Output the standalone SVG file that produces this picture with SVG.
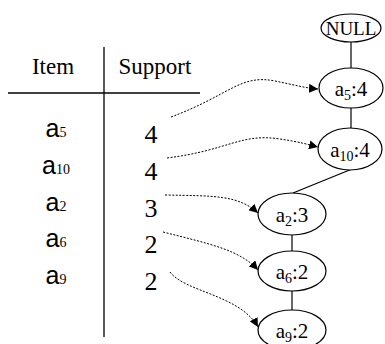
<svg xmlns="http://www.w3.org/2000/svg" width="385" height="344" viewBox="0 0 385 344">
  <style>
    .serif { font-family: 'Liberation Serif', 'Times New Roman', serif; fill: #000; }
    .sans { font-family: 'Liberation Sans', Arial, sans-serif; fill: #000; }
    .hdr { font-size: 23px; text-anchor: middle; }
    .item { font-size: 25px; text-anchor: middle; }
    .sub { font-family: 'Liberation Serif', 'Times New Roman', serif; font-size: 14px; }
    .num { font-size: 26px; text-anchor: middle; }
    .node ellipse { fill: #fff; stroke: #000; stroke-width: 1.2; }
    .lbl { font-size: 21px; text-anchor: middle; }
    .rule { stroke: #000; stroke-width: 1.3; }
    .edge { stroke: #000; stroke-width: 1.2; fill: none; }
    .link { stroke: #000; stroke-width: 1; fill: none; stroke-dasharray: 2 1.5; }
  </style>
  <defs>
    <marker id="arrow" viewBox="0 0 10 10" refX="10" refY="5" markerWidth="9" markerHeight="9" markerUnits="userSpaceOnUse" orient="auto">
      <path d="M0,0 L10,5 L0,10 z" fill="#000"/>
    </marker>
  </defs>

  <!-- item / support table -->
  <g id="table">
    <line class="rule" x1="8" y1="93" x2="200" y2="93"/>
    <line class="rule" x1="104" y1="47" x2="104" y2="337"/>
    <text class="serif hdr" x="53" y="74">Item</text>
    <text class="serif hdr" x="155" y="74">Support</text>

    <text class="sans item" x="56" y="137">a<tspan class="sub">5</tspan></text>
    <text class="sans item" x="56" y="174">a<tspan class="sub">10</tspan></text>
    <text class="sans item" x="56" y="211">a<tspan class="sub">2</tspan></text>
    <text class="sans item" x="56" y="247">a<tspan class="sub">6</tspan></text>
    <text class="sans item" x="56" y="284">a<tspan class="sub">9</tspan></text>

    <text class="serif num" x="151" y="143">4</text>
    <text class="serif num" x="151" y="180">4</text>
    <text class="serif num" x="151" y="217">3</text>
    <text class="serif num" x="151" y="253">2</text>
    <text class="serif num" x="151" y="290">2</text>
  </g>

  <!-- tree edges and header-table links -->
  <g id="connectors">
    <line class="edge" x1="351" y1="42" x2="351" y2="68"/>
    <line class="edge" x1="351" y1="108" x2="351" y2="128"/>
    <line class="edge" x1="352" y1="169" x2="293" y2="193"/>
    <line class="edge" x1="292" y1="235" x2="292" y2="251"/>
    <line class="edge" x1="292" y1="291" x2="292" y2="310"/>

    <path class="link" marker-end="url(#arrow)" d="M171,117 C230,95 240,74 275,81 C295,85 305,88 318,89"/>
    <path class="link" marker-end="url(#arrow)" d="M167,158 C230,150 240,133 280,139 C300,142 310,145 318,147"/>
    <path class="link" marker-end="url(#arrow)" d="M165,195 C215,196 238,195 258,213"/>
    <path class="link" marker-end="url(#arrow)" d="M163,232 C210,244 240,250 258,270"/>
    <path class="link" marker-end="url(#arrow)" d="M170,272 C185,292 240,295 258,327"/>
  </g>

  <!-- FP-tree nodes -->
  <g id="node-null" class="node">
    <ellipse cx="351" cy="28" rx="30" ry="14"/>
    <text class="serif lbl" x="351" y="35" style="font-size:19px">NULL</text>
  </g>
  <g id="node-a5" class="node">
    <ellipse cx="351" cy="88" rx="32" ry="20"/>
    <text class="serif lbl" x="351" y="96">a<tspan class="sub" dy="4">5</tspan><tspan dy="-4">:4</tspan></text>
  </g>
  <g id="node-a10" class="node">
    <ellipse cx="350" cy="149" rx="32" ry="21"/>
    <text class="serif lbl" x="350" y="157">a<tspan class="sub" dy="4">10</tspan><tspan dy="-4">:4</tspan></text>
  </g>
  <g id="node-a2" class="node">
    <ellipse cx="292" cy="214" rx="34" ry="21"/>
    <text class="serif lbl" x="292" y="222">a<tspan class="sub" dy="4">2</tspan><tspan dy="-4">:3</tspan></text>
  </g>
  <g id="node-a6" class="node">
    <ellipse cx="292" cy="271" rx="34" ry="20"/>
    <text class="serif lbl" x="292" y="279">a<tspan class="sub" dy="4">6</tspan><tspan dy="-4">:2</tspan></text>
  </g>
  <g id="node-a9" class="node">
    <ellipse cx="292" cy="330" rx="34" ry="20"/>
    <text class="serif lbl" x="292" y="338">a<tspan class="sub" dy="4">9</tspan><tspan dy="-4">:2</tspan></text>
  </g>
</svg>
